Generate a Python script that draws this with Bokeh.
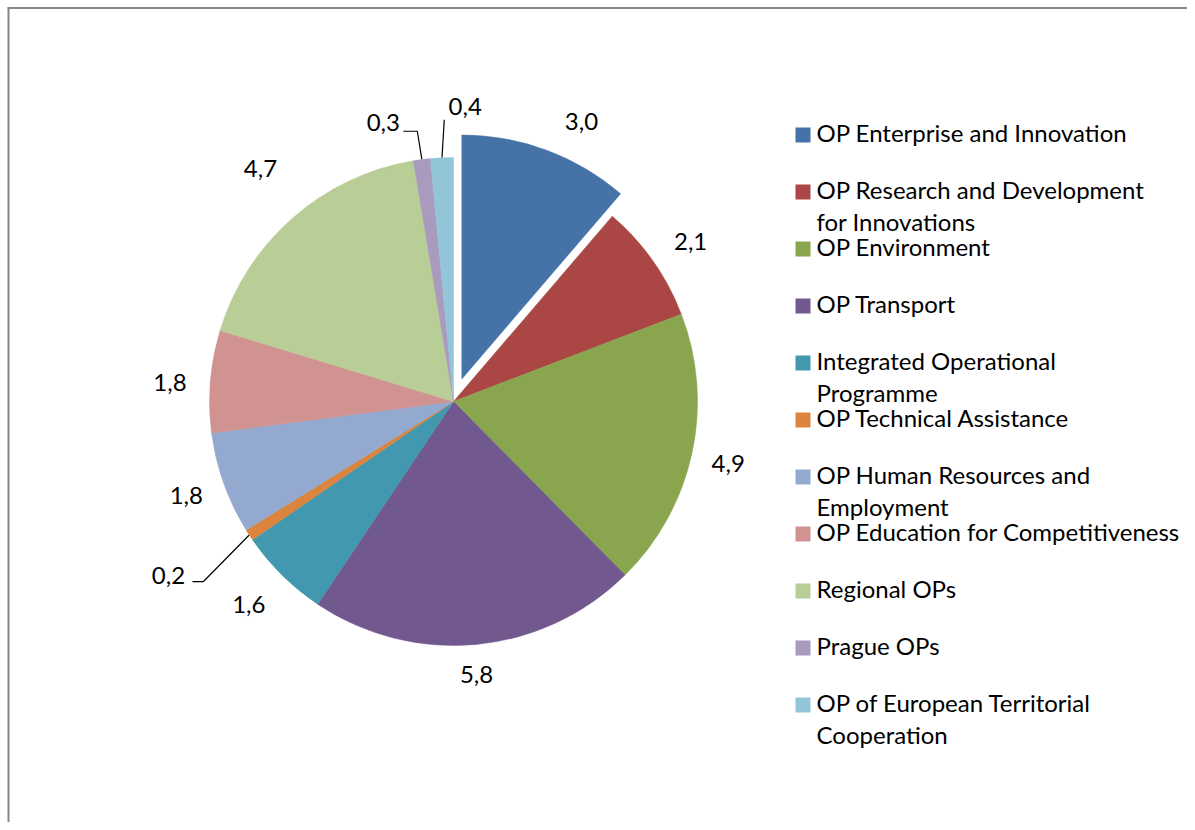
import math
from bokeh.plotting import figure
from bokeh.models import Range1d, ColumnDataSource
from bokeh.core.properties import value
from bokeh.embed import file_html
from bokeh.resources import INLINE

# ---------------- data ----------------
categories = [
    "OP Enterprise and Innovation",
    "OP Research and Development\nfor Innovations",
    "OP Environment",
    "OP Transport",
    "Integrated Operational\nProgramme",
    "OP Technical Assistance",
    "OP Human Resources and\nEmployment",
    "OP Education for Competitiveness",
    "Regional OPs",
    "Prague OPs",
    "OP of European Territorial\nCooperation",
]
values = [3.0, 2.1, 4.9, 5.8, 1.6, 0.2, 1.8, 1.8, 4.7, 0.3, 0.4]
value_labels = ["3,0", "2,1", "4,9", "5,8", "1,6", "0,2", "1,8", "1,8", "4,7", "0,3", "0,4"]
colors = ["#4572A7", "#AA4643", "#89A54E", "#71588F", "#4198AF", "#DB843D",
          "#93A9CF", "#D19392", "#B9CD96", "#A99BBD", "#92C5D8"]

# ---------------- layout ----------------
W, H = 1187, 822
FONT = "Lato"
FSIZE = "24px"


def fx(x):  # screen x -> figure x
    return x


def fy(y):  # screen y -> figure y (y up)
    return H - y


CX, CY, R = fx(453), fy(401), 244
explode = [24, 0, 0, 0, 0, 0, 0, 0, 0, 0, 0]
# label placement (clockwise degrees from top, distance from slice centre)
label_theta = [25.1, 56.3, 103.1, 175.2, 224.9, 238.3, 250.2, 273.4, 320.1, 345.8, 2.3]
label_dist = [282, 285, 282, 276, 290, 335, 284, 284, 301, 286, 293]
# leader lines: offsets (screen px, y down) relative to label centre
leaders = {
    5: [(35, 4), (24, 4)],
    9: [(34, 7), (20, 7)],
    10: [(-21, 11)],
}

p = figure(width=W, height=H, x_range=Range1d(0, W), y_range=Range1d(0, H),
           output_backend="svg", toolbar_location=None, min_border=0,
           x_axis_location=None, y_axis_location=None)
p.grid.visible = False
p.outline_line_color = None
p.background_fill_color = "white"
p.border_fill_color = "white"

total = sum(values)
cum = 0.0
xs, ys, starts, ends = [], [], [], []
lab_x, lab_y = [], []
for i, v in enumerate(values):
    t0 = cum / total * 360.0
    t1 = (cum + v) / total * 360.0
    cum += v
    mid = math.radians((t0 + t1) / 2)
    cx = CX + explode[i] * math.sin(mid)
    cy = CY + explode[i] * math.cos(mid)
    xs.append(cx)
    ys.append(cy)
    starts.append(math.radians(90 - t0))
    ends.append(math.radians(90 - t1))
    lt = math.radians(label_theta[i])
    lx = cx + label_dist[i] * math.sin(lt)
    ly = cy + label_dist[i] * math.cos(lt)
    lab_x.append(lx)
    lab_y.append(ly)
    if i in leaders:
        px = [cx + R * math.sin(mid)]
        py = [cy + R * math.cos(mid)]
        for (ox, oy) in leaders[i]:
            px.append(lx + ox)
            py.append(ly - oy)
        p.line(px, py, line_color="black", line_width=1.2)

src = ColumnDataSource(dict(x=xs, y=ys, s=starts, e=ends, c=colors))
p.wedge(x="x", y="y", radius=R, start_angle="s", end_angle="e", direction="clock",
        fill_color="c", line_color="c", line_width=0.5, source=src)

p.text(x=lab_x, y=[v + 2 for v in lab_y], text=value_labels, text_align="center",
       text_baseline="middle", text_font=value(FONT), text_font_size=FSIZE, text_color="black")

# ---------------- legend ----------------
leg_sq_x = [fx(802.5)] * len(categories)
leg_y = [fy(134.5 + 57 * i) for i in range(len(categories))]
p.scatter(x=leg_sq_x, y=leg_y, marker="square", size=15, fill_color=colors, line_color=None)
first = [c.split("\n")[0] for c in categories]
p.text(x=[fx(816)] * len(first), y=[v + 2.5 for v in leg_y], text=first, text_align="left",
       text_baseline="middle", text_font=value(FONT), text_font_size=FSIZE, text_color="black")
sec_t, sec_y = [], []
for i, c in enumerate(categories):
    parts = c.split("\n")
    if len(parts) > 1:
        sec_t.append(parts[1])
        sec_y.append(leg_y[i] + 2.5 - 32)
p.text(x=[fx(816)] * len(sec_t), y=sec_y, text=sec_t, text_align="left", text_baseline="middle",
       text_font=value(FONT), text_font_size=FSIZE, text_color="black")

# chart area border (top and left visible)
p.line([fx(8), fx(8)], [0, fy(7)], line_color="#878787", line_width=2)
p.line([fx(7), W], [fy(7.5), fy(7.5)], line_color="#878787", line_width=2)

open("out.html", "w").write(file_html(p, INLINE))
